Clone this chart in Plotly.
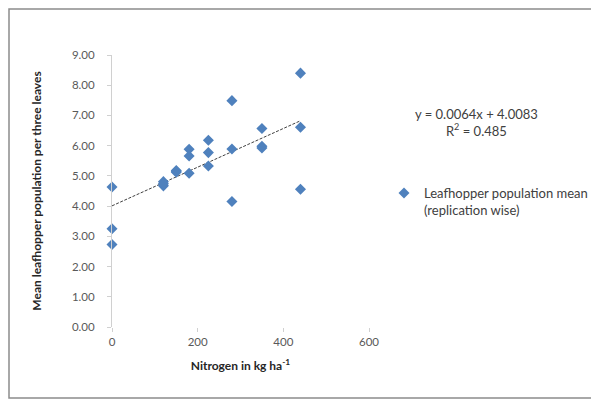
import plotly.graph_objects as go

# ---- data ----
nitrogen = [0, 0, 0,
            120, 120, 120,
            150, 150, 150,
            180, 180, 180,
            225, 225, 225,
            280, 280, 280,
            350, 350, 350,
            440, 440, 440]
leafhopper = [4.63, 3.25, 2.73,
              4.81, 4.67, 4.74,
              5.18, 5.12, 5.15,
              5.88, 5.66, 5.09,
              6.18, 5.77, 5.33,
              7.49, 5.89, 4.15,
              6.57, 5.98, 5.92,
              8.40, 6.61, 4.56]
slope = 0.0064
intercept = 4.0083
r_squared = 0.485
trend_x = [0, 440]
x_ticks = [0, 200, 400, 600]
y_ticks = [0, 1, 2, 3, 4, 5, 6, 7, 8, 9]
series_name = "Leafhopper population mean<br>(replication wise)"

OFF = 8  # page body margin
W, H = 599 - OFF, 400 - OFF
# target screen positions of plot area
SL, SR, ST, SB = 112, 369, 55, 327
L, T = SL - OFF, ST - OFF
R, B = W - (SR - OFF), H - (SB - OFF)

FONT = "Lato"
fig = go.Figure()

fig.add_trace(go.Scatter(
    x=trend_x, y=[slope * v + intercept for v in trend_x],
    mode="lines", line=dict(color="#404040", width=1, dash="3px,1.5px"),
    showlegend=False, hoverinfo="skip"))

fig.add_trace(go.Scatter(
    x=nitrogen, y=leafhopper, mode="markers", name=series_name,
    marker=dict(symbol="diamond", size=8.5, color="#4F81BD"),
    cliponaxis=False))

pw = W - L - R
ph = H - T - B
def px_x(p):
    return (p - OFF - L) / pw
def px_y(p):
    return (H - B - (p - OFF)) / ph

fig.update_layout(
    width=W, height=H,
    margin=dict(l=L, r=R, t=T, b=B, autoexpand=False),
    paper_bgcolor="white", plot_bgcolor="white",
    font=dict(family=FONT, size=11, color="#404040"),
    legend=dict(x=px_x(384), y=px_y(178), xanchor="left", yanchor="top",
                valign="top", font=dict(size=13, color="#404040"),
                itemwidth=30, tracegroupgap=0, bgcolor="rgba(0,0,0,0)"),
    xaxis=dict(range=[0, 600], tickvals=x_ticks, showgrid=False, zeroline=False,
               showline=False, ticks="outside", ticklen=4, tickcolor="#d0d0d0",
               automargin=False,
               tickfont=dict(size=11.5, color="#595959"),
               title=dict(text="<b>Nitrogen in kg ha<sup>-1</sup></b>",
                          font=dict(size=12, color="#262626"), standoff=14)),
    yaxis=dict(range=[0, 9], tickvals=y_ticks, tickformat=".2f", showgrid=False,
               zeroline=False, showline=True, linecolor="#d0d0d0", linewidth=1,
               ticks="outside", ticklen=4, tickcolor="#d0d0d0",
               ticklabelstandoff=10, automargin=False,
               tickfont=dict(size=11.5, color="#595959"),
               title=dict(text="<b>Mean leafhopper population per three leaves</b>",
                          font=dict(size=12, color="#262626"), standoff=27)),
)

fig.add_annotation(x=px_x(476), y=px_y(122), xref="paper", yref="paper",
                   xanchor="center", yanchor="middle",
                   text=f"y = {slope}x + {intercept}<br>R<sup>2</sup> = {r_squared}",
                   showarrow=False, align="center",
                   font=dict(size=13, color="#404040"))

fig.add_shape(type="rect", xref="paper", yref="paper",
              x0=px_x(9), x1=px_x(596), y0=px_y(398), y1=px_y(9),
              line=dict(color="#8c8c8c", width=1.5), layer="above")

fig.write_html("out.html")
